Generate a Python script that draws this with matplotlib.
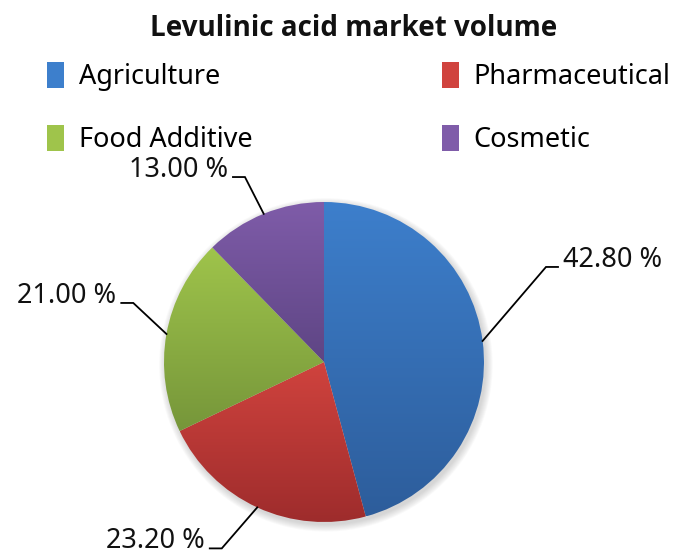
import numpy as np
import matplotlib.pyplot as plt
from matplotlib.patches import Rectangle, Circle

plt.rcParams['font.family'] = ['Noto Sans', 'DejaVu Sans']

categories = ["Agriculture", "Pharmaceutical", "Food Additive", "Cosmetic"]
# slice sizes as drawn in the picture, and the labels printed next to them
shares = [45.8, 22.1, 19.8, 12.3]
pct_labels = ["42.80 %", "23.20 %", "21.00 %", "13.00 %"]
top_colors = ["#3d7fcc", "#d0433e", "#9fc44b", "#7f5ca9"]
bottom_colors = ["#2d5d9b", "#9e2c2c", "#76963a", "#5e4584"]

fig = plt.figure(figsize=(6.73, 5.55), dpi=100)
ax = fig.add_axes([0, 0, 1, 1])

# soft shadow behind the pie
for i in range(8):
    ax.add_patch(Circle((0.012, -0.018), 1.0 + 0.006 * i, color="#808080",
                        alpha=0.045, lw=0, zorder=0))

wedges, _ = ax.pie(shares, startangle=90, counterclock=False, radius=1,
                   wedgeprops=dict(linewidth=0))


def to_rgb(h):
    h = h.lstrip('#')
    return np.array([int(h[i:i + 2], 16) for i in (0, 2, 4)]) / 255.0


for w, c1, c2 in zip(wedges, top_colors, bottom_colors):
    w.set_facecolor('none')
    ext = w.get_path().get_extents()
    t = np.linspace(0, 1, 256).reshape(-1, 1, 1)
    img = to_rgb(c1) * (1 - t) + to_rgb(c2) * t
    im = ax.imshow(img, extent=[ext.x0, ext.x1, ext.y0, ext.y1],
                   origin='upper', aspect='auto', zorder=2,
                   interpolation='bilinear')
    im.set_clip_path(w)

# leader lines: wedge edge -> elbow -> short horizontal -> text
elbows = [(1.3875, 0.594), (-0.639, -1.165), (-1.192, 0.369), (-0.494, 1.156)]
for w, lab, (ex, ey) in zip(wedges, pct_labels, elbows):
    mid = np.deg2rad((w.theta1 + w.theta2) / 2)
    sx, sy = np.cos(mid), np.sin(mid)
    side = 1 if ex > 0 else -1
    hx = ex + side * 0.075
    ax.plot([sx, ex, hx], [sy, ey, ey], color='black', lw=1.3, zorder=3,
            solid_joinstyle='miter')
    ax.text(hx + side * 0.03, ey, lab, fontsize=19.5,
            ha='left' if side > 0 else 'right', va='baseline', color='#111111')

ax.set_xlim(-324 / 160, (673 - 324) / 160)
ax.set_ylim((362 - 555) / 160, 362 / 160)
ax.axis('off')

fig.text(354 / 673, 1 - 28 / 555, "Levulinic acid market volume",
         fontsize=20, fontweight='bold', family=['Open Sans', 'DejaVu Sans'],
         ha='center', va='center', color='#111111')

order = [0, 2, 1, 3]
handles = [Rectangle((0, 0), 1, 1, facecolor=top_colors[i]) for i in order]
fig.legend(handles, [categories[i] for i in order], ncol=2, frameon=False,
           loc='upper left', bbox_to_anchor=(47 / 673, 1 - 62 / 555),
           borderpad=0, borderaxespad=0, fontsize=19.5,
           handlelength=0.62, handleheight=1.1, handletextpad=0.55,
           columnspacing=7.0, labelspacing=1.25)

fig.savefig("out.png", dpi=100)
